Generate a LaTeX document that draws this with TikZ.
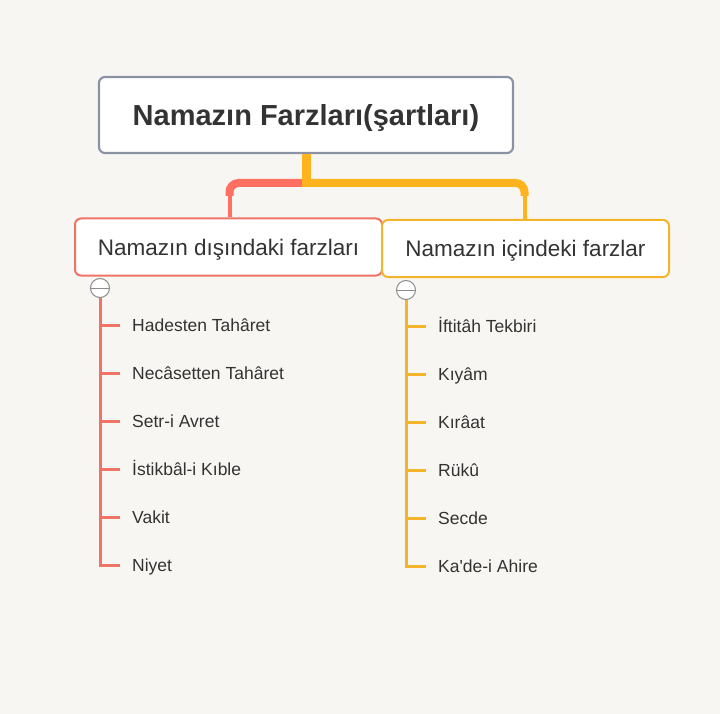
\documentclass[tikz,border=0pt]{standalone}
\usepackage{fontspec}
\setmainfont{Liberation Sans}
\definecolor{bg}{HTML}{F8F6F2}
\definecolor{ink}{HTML}{333333}
\definecolor{rootline}{HTML}{8A93A5}
\definecolor{coral}{HTML}{EE7565}
\definecolor{coralbar}{HTML}{FF7062}
\definecolor{amber}{HTML}{F4B42C}
\definecolor{amberbar}{HTML}{FFB31F}
\definecolor{foldline}{HTML}{8C8C8C}
\tikzset{
rootbox/.style={draw=rootline,line width=2.2pt,fill=white,rounded corners=6pt,minimum width=414pt,minimum height=76pt,text height=21pt,text depth=0pt,text=ink,font=\fontsize{29}{34}\selectfont\bfseries},
topicbox/.style={line width=2pt,fill=white,rounded corners=6pt,minimum height=57pt,text height=16.2pt,text depth=0pt,text=ink,font=\fontsize{22.5}{27}\selectfont},
fold/.style={circle,draw=foldline,fill=white,line width=1pt,minimum size=19pt,inner sep=0pt},
leaf/.style={anchor=west,inner xsep=12pt,inner ysep=0pt,text height=12.6pt,text depth=0pt,text=ink,font=\fontsize{17.5}{21}\selectfont}
}
\begin{document}
\begin{tikzpicture}[x=1pt,y=-1pt]
\fill[bg] (0,0) rectangle (720,714);
\node(root)[rootbox] at (306,115){Namazın Farzları(şartları)};
\coordinate(fork) at (306,183);
\coordinate(obend) at (229.5,196);
\coordinate(ibend) at (524.5,196);
\draw[coralbar,line width=8pt,rounded corners=9pt] (fork) -| (obend);
\draw[amberbar,line width=8pt,rounded corners=9pt] (fork) -| (ibend);
\draw[amberbar,line width=9pt] (root.south) -- ([yshift=-4pt]fork);
\node(outer)[topicbox,draw=coral,minimum width=307pt] at (228.5,247){Namazın dışındaki farzları};
\node(inner)[topicbox,draw=amber,minimum width=287pt] at (525.5,248.5){Namazın içindeki farzlar};
\draw[coralbar,line width=4pt] (obend) -- (obend |- outer.north);
\draw[amberbar,line width=4pt] (ibend) -- (ibend |- inner.north);
% outer list
\foreach \t [count=\i] in {Hadesten Tahâret,Necâsetten Tahâret,Setr-i Avret,İstikbâl-i Kıble,Vakit,Niyet}
  \node(o\i)[leaf] at (120,277+48*\i){\t};
\node(ofold)[fold] at (100,288){};
\foreach \i in {1,...,6}
  \draw[coral,line width=3pt] (ofold.south) |- (o\i.west);
\draw[foldline,line width=1pt] (ofold.west) -- (ofold.east);
% inner list
\foreach \t [count=\i] in {İftitâh Tekbiri,Kıyâm,Kırâat,Rükû,Secde,Ka\textquotesingle de-i Ahire}
  \node(i\i)[leaf] at (426,278+48*\i){\t};
\node(ifold)[fold] at (406,290){};
\foreach \i in {1,...,6}
  \draw[amber,line width=3pt] (ifold.south) |- (i\i.west);
\draw[foldline,line width=1pt] (ifold.west) -- (ifold.east);
\end{tikzpicture}
\end{document}
